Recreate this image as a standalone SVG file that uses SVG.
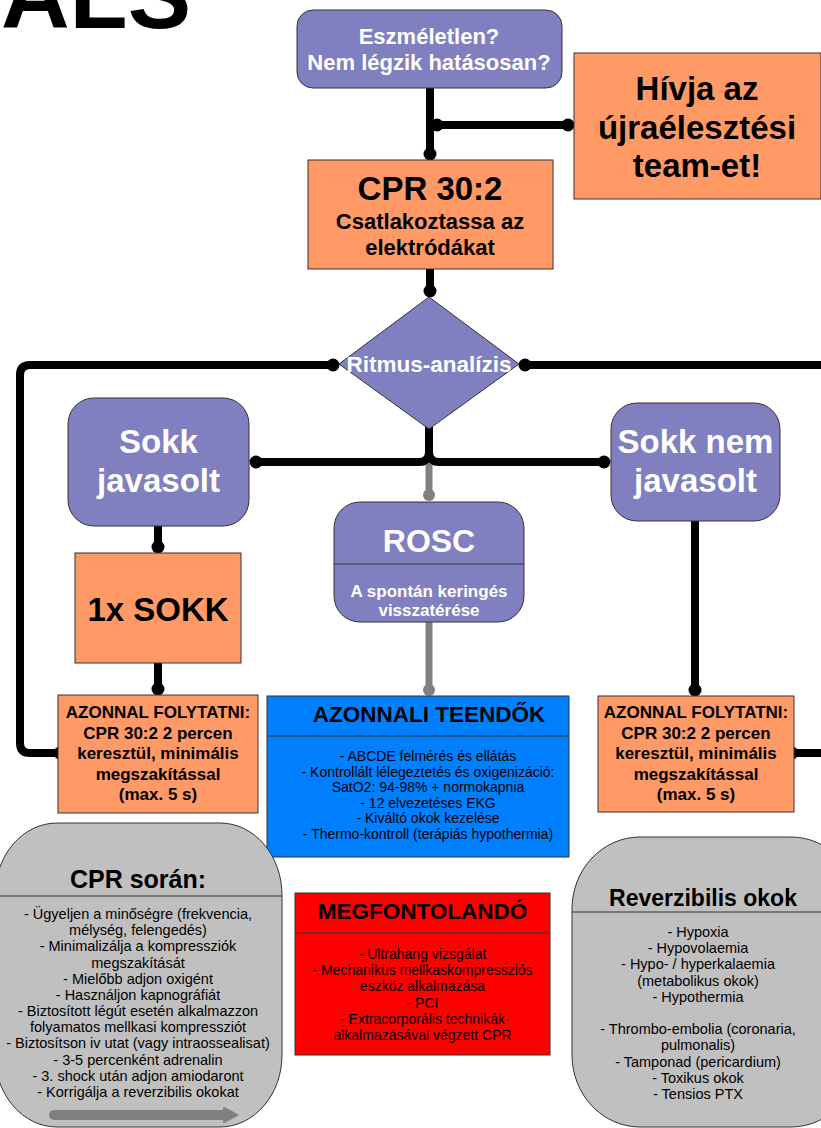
<svg xmlns="http://www.w3.org/2000/svg" width="821" height="1128" viewBox="0 0 821 1128">
<style>
text{font-family:"Liberation Sans",Arial,sans-serif;text-anchor:middle}
.pu{fill:#8080C0;stroke:#333;stroke-width:1}
.or{fill:#FF9966;stroke:#333;stroke-width:1}
.bl{fill:#0080FF;stroke:#333;stroke-width:1}
.rd{fill:#FF0000;stroke:#333;stroke-width:1}
.gr{fill:#C0C0C0;stroke:#333;stroke-width:1}
.div{stroke:#333;stroke-width:1;fill:none}
.w{fill:#fff;font-weight:bold}
.b{fill:#000;font-weight:bold}
.n{fill:#000}
.c{fill:none;stroke:#000;stroke-width:8;stroke-linecap:round;stroke-linejoin:round;marker-end:url(#dot)}
.g{fill:none;stroke:#808080;stroke-width:7;stroke-linecap:round;marker-end:url(#gdot)}
</style>
<defs>
<marker id="dot" markerUnits="userSpaceOnUse" markerWidth="14" markerHeight="14" refX="7" refY="7" viewBox="0 0 14 14"><circle cx="7" cy="7" r="6.5" fill="#000"/></marker>
<marker id="gdot" markerUnits="userSpaceOnUse" markerWidth="14" markerHeight="14" refX="7" refY="7" viewBox="0 0 14 14"><circle cx="7" cy="7" r="6" fill="#808080"/></marker>
</defs>
<rect width="821" height="1128" fill="#fff"/>
<text x="1" y="28" class="b" style="text-anchor:start" font-size="95">ALS</text>

<g id="connectors">
<path class="c" d="M430 88V154"/>
<path class="c" d="M568 125H437" style="marker-start:url(#dot)"/>
<path class="c" d="M430 269V291"/>
<path class="c" d="M60 753H30Q20 753 20 743V375Q20 365 30 365H333" style="marker-start:url(#dot)"/>
<path class="c" d="M792 753H860V365H525" style="marker-start:url(#dot)"/>
<path class="c" d="M429 428V452Q429 462 419 462H256"/>
<path class="c" d="M429 428V452Q429 462 439 462H604"/>
<path class="g" d="M429 467V495"/>
<path class="c" d="M158 526V547"/>
<path class="c" d="M158 663V689"/>
<path class="c" d="M695 521V690"/>
<path class="g" d="M429 622V690"/>
</g>

<g id="n-eszmeletlen">
<rect class="pu" x="297" y="10" width="265" height="78" rx="16"/>
<text class="w" x="429" y="44" font-size="22">Eszméletlen?</text>
<text class="w" x="429" y="70" font-size="22">Nem légzik hatásosan?</text>
</g>

<g id="n-hivja">
<rect class="or" x="574" y="53" width="247" height="146"/>
<text class="b" x="697" y="100" font-size="33">Hívja az</text>
<text class="b" x="697" y="139" font-size="33">újraélesztési</text>
<text class="b" x="697" y="177" font-size="33">team-et!</text>
</g>

<g id="n-cpr">
<rect class="or" x="308" y="160" width="245" height="109"/>
<text class="b" x="430" y="200" font-size="33">CPR 30:2</text>
<text class="b" x="430" y="229" font-size="22">Csatlakoztassa az</text>
<text class="b" x="430" y="255" font-size="22">elektródákat</text>
</g>

<g id="n-ritmus">
<polygon class="pu" points="429,297 519,364 429,429 339,364"/>
<text class="w" x="429" y="372" font-size="22.5">Ritmus-analízis</text>
</g>

<g id="n-sokk">
<rect class="pu" x="68" y="398" width="181" height="128" rx="26"/>
<text class="w" x="158.5" y="453" font-size="33">Sokk</text>
<text class="w" x="158.5" y="492" font-size="33">javasolt</text>
</g>

<g id="n-sokknem">
<rect class="pu" x="611" y="403" width="169" height="118" rx="26"/>
<text class="w" x="695.5" y="453" font-size="33">Sokk nem</text>
<text class="w" x="695.5" y="492" font-size="33">javasolt</text>
</g>

<g id="n-rosc">
<rect class="pu" x="334" y="502" width="190" height="120" rx="26"/>
<line class="div" x1="334" y1="564" x2="524" y2="564"/>
<text class="w" x="429" y="552" font-size="32">ROSC</text>
<text class="w" x="429" y="597" font-size="17">A spontán keringés</text>
<text class="w" x="429" y="616" font-size="17">visszatérése</text>
</g>

<g id="n-1xsokk">
<rect class="or" x="75" y="553" width="166" height="110"/>
<text class="b" x="158" y="621" font-size="33">1x SOKK</text>
</g>

<g id="n-azonnal-l">
<rect class="or" x="58" y="695" width="200" height="118"/>
<text class="b" x="158" y="718" font-size="17">AZONNAL FOLYTATNI:</text>
<text class="b" x="158" y="738.5" font-size="17">CPR 30:2 2 percen</text>
<text class="b" x="158" y="759" font-size="17">keresztül, minimális</text>
<text class="b" x="158" y="779.5" font-size="17">megszakítással</text>
<text class="b" x="158" y="800" font-size="17">(max. 5 s)</text>
</g>

<g id="n-azonnal-r">
<rect class="or" x="598" y="696" width="196" height="116"/>
<text class="b" x="696" y="718" font-size="17">AZONNAL FOLYTATNI:</text>
<text class="b" x="696" y="738.5" font-size="17">CPR 30:2 2 percen</text>
<text class="b" x="696" y="759" font-size="17">keresztül, minimális</text>
<text class="b" x="696" y="779.5" font-size="17">megszakítással</text>
<text class="b" x="696" y="800" font-size="17">(max. 5 s)</text>
</g>

<g id="n-teendok">
<rect class="bl" x="267" y="696" width="302" height="161"/>
<line class="div" x1="267" y1="736" x2="569" y2="736"/>
<text class="b" x="429" y="722" font-size="22.5">AZONNALI TEENDŐK</text>
<g class="n" font-size="14">
<text x="428" y="761">- ABCDE felmérés és ellátás</text>
<text x="428" y="776.6">- Kontrollált lélegeztetés és oxigenizáció:</text>
<text x="428" y="792.2">SatO2: 94-98% + normokapnia</text>
<text x="428" y="807.8">- 12 elvezetéses EKG</text>
<text x="428" y="823.4">- Kiváltó okok kezelése</text>
<text x="428" y="839">- Thermo-kontroll (terápiás hypothermia)</text>
</g>
</g>

<g id="n-cprsoran">
<rect class="gr" x="-5" y="823" width="287" height="304" rx="62" ry="72"/>
<line class="div" x1="-5" y1="896" x2="282" y2="896"/>
<text class="b" x="138" y="888" font-size="25">CPR során:</text>
<g class="n" font-size="14.5">
<text x="138" y="919">- Ügyeljen a minőségre (frekvencia,</text>
<text x="138" y="935.2">mélység, felengedés)</text>
<text x="138" y="951.4">- Minimalizálja a kompressziók</text>
<text x="138" y="967.5">megszakítását</text>
<text x="138" y="983.7">- Mielőbb adjon oxigént</text>
<text x="138" y="999.9">- Használjon kapnográfiát</text>
<text x="138" y="1016.1">- Biztosított légút esetén alkalmazzon</text>
<text x="138" y="1032.3">folyamatos mellkasi kompressziót</text>
<text x="138" y="1048.4">- Biztosítson iv utat (vagy intraossealisat)</text>
<text x="138" y="1064.6">- 3-5 percenként adrenalin</text>
<text x="138" y="1080.8">- 3. shock után adjon amiodaront</text>
<text x="138" y="1097">- Korrigálja a reverzibilis okokat</text>
</g>
<line x1="54" y1="1115" x2="226" y2="1115" stroke="#808080" stroke-width="10" stroke-linecap="round"/>
<polygon points="224,1108 237,1115 224,1122" fill="#808080" stroke="#808080" stroke-width="2" stroke-linejoin="round"/>
</g>

<g id="n-megfontolando">
<rect class="rd" x="295" y="893" width="255" height="162"/>
<line class="div" x1="295" y1="933" x2="550" y2="933"/>
<text class="b" x="422.5" y="919" font-size="22.5">MEGFONTOLANDÓ</text>
<g class="n" font-size="14">
<text x="422.5" y="959">- Ultrahang vizsgálat</text>
<text x="422.5" y="975.2">- Mechanikus mellkaskompressziós</text>
<text x="422.5" y="991.4">eszköz alkalmazása</text>
<text x="422.5" y="1007.6">- PCI</text>
<text x="422.5" y="1023.8">- Extracorporális technikák</text>
<text x="422.5" y="1040">alkalmazásával végzett CPR</text>
</g>
</g>

<g id="n-reverzibilis">
<rect class="gr" x="572" y="837" width="287" height="290" rx="68" ry="72"/>
<line class="div" x1="572" y1="912" x2="821" y2="912"/>
<text class="b" x="703" y="906" font-size="23">Reverzibilis okok</text>
<g class="n" font-size="14.5">
<text x="698" y="937">- Hypoxia</text>
<text x="698" y="953.2">- Hypovolaemia</text>
<text x="698" y="969.4">- Hypo- / hyperkalaemia</text>
<text x="698" y="985.6">(metabolikus okok)</text>
<text x="698" y="1001.8">- Hypothermia</text>
<text x="698" y="1034.2">- Thrombo-embolia (coronaria,</text>
<text x="698" y="1050.4">pulmonalis)</text>
<text x="698" y="1066.6">- Tamponad (pericardium)</text>
<text x="698" y="1082.8">- Toxikus okok</text>
<text x="698" y="1099">- Tensios PTX</text>
</g>
</g>
</svg>
